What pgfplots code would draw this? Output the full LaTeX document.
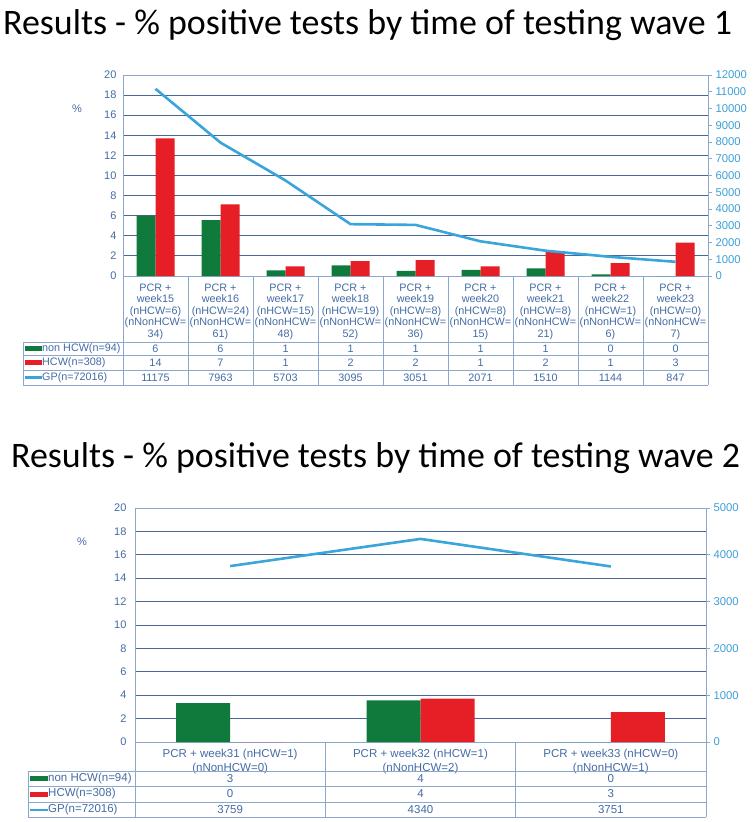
\documentclass[border=0pt]{standalone}
\usepackage{pgfplots}
\pgfplotsset{compat=1.18}
\usepackage{fontspec}
\setmainfont{Liberation Sans}
\newfontfamily\titlefont{Carlito}
\definecolor{cgreen}{RGB}{16,122,60}
\definecolor{cred}{RGB}{230,30,38}
\definecolor{cline}{RGB}{58,165,218}
\definecolor{cgrid}{RGB}{72,102,150}
\definecolor{caxis}{RGB}{140,168,205}
\definecolor{ctext}{RGB}{68,108,165}
\definecolor{crtext}{RGB}{60,160,215}
\begin{document}
\begin{tikzpicture}[x=1pt,y=1pt]
\useasboundingbox[fill=white] (0,0) rectangle (755,-822);
% ---------- titles
\node[anchor=base west, inner sep=0pt, font=\titlefont\fontsize{35.9}{40}\selectfont] at (3,-34) {Results - \% positive tests by time of testing wave 1};
\node[anchor=base west, inner sep=0pt, font=\titlefont\fontsize{35.9}{40}\selectfont] at (11,-467) {Results - \% positive tests by time of testing wave 2};
% ---------- chart 1 left axis
\begin{axis}[
  at={(123pt,-276pt)}, anchor=south west, scale only axis,
  width=585pt, height=201pt,
  xmin=-0.5, xmax=8.5, ymin=0, ymax=20,
  ybar=0pt, bar width=19pt,
  xtick={0,...,8},
  xticklabels={{PCR +\\week15\\(nHCW=6)\\(nNonHCW=\\34)},{PCR +\\week16\\(nHCW=24)\\(nNonHCW=\\61)},{PCR +\\week17\\(nHCW=15)\\(nNonHCW=\\48)},{PCR +\\week18\\(nHCW=19)\\(nNonHCW=\\52)},{PCR +\\week19\\(nHCW=8)\\(nNonHCW=\\36)},{PCR +\\week20\\(nHCW=8)\\(nNonHCW=\\15)},{PCR +\\week21\\(nHCW=8)\\(nNonHCW=\\21)},{PCR +\\week22\\(nHCW=1)\\(nNonHCW=\\6)},{PCR +\\week23\\(nHCW=0)\\(nNonHCW=\\7)}},
  xticklabel style={align=center, anchor=north, inner sep=0pt, yshift=-3pt, text=ctext, font=\fontsize{10.8}{11.5}\selectfont},
  xtick style={draw=none},
  ytick={0,2,...,20}, ymajorgrids, grid style={cgrid, line width=0.9pt},
  axis line style={caxis, line width=0.8pt},
  ytick style={draw=none},
  yticklabel style={text=ctext, font=\fontsize{11}{13}\selectfont, xshift=-3pt},
  /pgf/number format/assume math mode=true,
]
\addplot[fill=cgreen, draw=none] coordinates {(0,6.0) (1,5.57) (2,0.56) (3,1.06) (4,0.5) (5,0.6) (6,0.76) (7,0.17) (8,0)};
\addplot[fill=cred, draw=none] coordinates {(0,13.7) (1,7.13) (2,0.96) (3,1.49) (4,1.59) (5,0.96) (6,2.42) (7,1.29) (8,3.32)};
\end{axis}
% ---------- chart 1 right axis
\begin{axis}[
  at={(123pt,-276pt)}, anchor=south west, scale only axis,
  width=585pt, height=201pt,
  xmin=-0.5, xmax=8.5, ymin=0, ymax=12000,
  axis x line=none, axis y line*=right,
  ytick={0,1000,...,12000},
  axis line style={caxis, line width=0.8pt},
  ytick style={caxis, line width=0.8pt}, tick align=outside, major tick length=4pt,
  yticklabel style={text=crtext, font=\fontsize{11.3}{13}\selectfont},
  scaled y ticks=false,
  /pgf/number format/.cd, 1000 sep={}, assume math mode=true,
]
\addplot[cline, line width=2.6pt, no marks] coordinates {(0,11175) (1,7963) (2,5703) (3,3095) (4,3051) (5,2071) (6,1510) (7,1144) (8,847)};
\end{axis}
\node[text=ctext, font=\fontsize{11}{13}\selectfont] at (77,-109) {\%};
% ---------- chart 1 table
\begin{scope}[caxis, line width=0.8pt]
\foreach \k in {0,...,9} { \draw (123+65*\k,-276) -- (123+65*\k,-385); }
\foreach \yy in {342,355,370,385} { \draw (23,-\yy) -- (708,-\yy); }
\draw (23,-342) -- (23,-385);
\end{scope}
\fill[cgreen] (25,-346) rectangle (42,-351);
\fill[cred] (25,-360) rectangle (42,-365);
\draw[cline, line width=2.6pt] (25,-377.5) -- (42,-377.5);
\begin{scope}[font=\fontsize{10.8}{12}\selectfont, text=ctext]
\node[anchor=west, inner sep=0pt] at (42,-348.5) {non HCW(n=94)};
\node[anchor=west, inner sep=0pt] at (42,-362.5) {HCW(n=308)};
\node[anchor=west, inner sep=0pt] at (42,-377.5) {GP(n=72016)};
\foreach \v [count=\i from 0] in {6,6,1,1,1,1,1,0,0} { \node[inner sep=0pt] at (155.5+65*\i,-348.5) {\v}; }
\foreach \v [count=\i from 0] in {14,7,1,2,2,1,2,1,3} { \node[inner sep=0pt] at (155.5+65*\i,-362.5) {\v}; }
\foreach \v [count=\i from 0] in {11175,7963,5703,3095,3051,2071,1510,1144,847} { \node[inner sep=0pt] at (155.5+65*\i,-377.5) {\v}; }
\end{scope}
% ---------- chart 2 left axis
\begin{axis}[
  at={(135pt,-742pt)}, anchor=south west, scale only axis,
  width=571pt, height=234pt,
  xmin=-0.5, xmax=2.5, ymin=0, ymax=20,
  ybar=0pt, bar width=54pt,
  xtick={0,1,2},
  xticklabels={{PCR + week31 (nHCW=1)\\(nNonHCW=0)},{PCR + week32 (nHCW=1)\\(nNonHCW=2)},{PCR + week33 (nHCW=0)\\(nNonHCW=1)}},
  xticklabel style={align=center, anchor=north, inner sep=0pt, yshift=-3pt, text=ctext, font=\fontsize{11.5}{13.3}\selectfont},
  xtick style={draw=none},
  ytick={0,2,...,20}, ymajorgrids, grid style={cgrid, line width=0.9pt},
  axis line style={caxis, line width=0.8pt},
  ytick style={draw=none},
  yticklabel style={text=ctext, font=\fontsize{11}{13}\selectfont, xshift=-5pt},
  /pgf/number format/assume math mode=true,
]
\addplot[fill=cgreen, draw=none] coordinates {(0,3.33) (1,3.56) (2,0)};
\addplot[fill=cred, draw=none] coordinates {(0,0) (1,3.70) (2,2.56)};
\end{axis}
% ---------- chart 2 right axis
\begin{axis}[
  at={(135pt,-742pt)}, anchor=south west, scale only axis,
  width=571pt, height=234pt,
  xmin=-0.5, xmax=2.5, ymin=0, ymax=5000,
  axis x line=none, axis y line*=right,
  ytick={0,1000,...,5000},
  axis line style={caxis, line width=0.8pt},
  ytick style={caxis, line width=0.8pt}, tick align=outside, major tick length=4pt,
  yticklabel style={text=crtext, font=\fontsize{11.3}{13}\selectfont},
  scaled y ticks=false,
  /pgf/number format/.cd, 1000 sep={}, assume math mode=true,
]
\addplot[cline, line width=2.6pt, no marks] coordinates {(0,3759) (1,4340) (2,3751)};
\end{axis}
\node[text=ctext, font=\fontsize{11}{13}\selectfont] at (82,-542) {\%};
% ---------- chart 2 table
\begin{scope}[caxis, line width=0.8pt]
\foreach \k in {0,...,3} { \draw (135+190.333*\k,-742) -- (135+190.333*\k,-817); }
\foreach \yy in {771,786.5,802,817} { \draw (28,-\yy) -- (706,-\yy); }
\draw (28,-771) -- (28,-817);
\end{scope}
\fill[cgreen] (30,-776) rectangle (48,-781);
\fill[cred] (30,-791.5) rectangle (48,-796.5);
\draw[cline, line width=2.6pt] (30,-810) -- (48,-810);
\begin{scope}[font=\fontsize{11.5}{13}\selectfont, text=ctext]
\node[anchor=west, inner sep=0pt] at (48,-778.5) {non HCW(n=94)};
\node[anchor=west, inner sep=0pt] at (48,-794) {HCW(n=308)};
\node[anchor=west, inner sep=0pt] at (48,-809.5) {GP(n=72016)};
\foreach \v [count=\i from 0] in {3,4,0} { \node[inner sep=0pt] at (230.17+190.333*\i,-778.5) {\v}; }
\foreach \v [count=\i from 0] in {0,4,3} { \node[inner sep=0pt] at (230.17+190.333*\i,-794) {\v}; }
\foreach \v [count=\i from 0] in {3759,4340,3751} { \node[inner sep=0pt] at (230.17+190.333*\i,-809.5) {\v}; }
\end{scope}
\end{tikzpicture}
\end{document}
